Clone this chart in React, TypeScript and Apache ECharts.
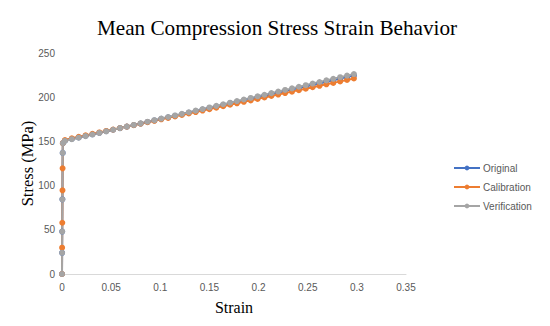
import React, { useEffect, useRef } from "react";
import * as echarts from "echarts";

const seriesNames = ["Original", "Calibration", "Verification"];
const colors = ["#4472C4", "#ED7D31", "#A5A5A5"];

// Elastic (near-zero strain) region
const elasticStrainOriginal = [0, 0.0001, 0.0002, 0.0004, 0.0007, 0.0009];
const elasticStressOriginal = [0, 24, 48, 84.5, 137, 148];
const elasticStrainCalibration = [0, 0.0001, 0.0003, 0.0005, 0.0006, 0.0008];
const elasticStressCalibration = [0, 29.8, 58, 94.7, 119.5, 148];
const elasticStrainVerification = [0, 0.0001, 0.0002, 0.0004, 0.0007, 0.0009];
const elasticStressVerification = [0, 24, 48, 84.5, 137, 148];

// Plastic region strains
const plasticStrain = [
  0.003, 0.01, 0.017, 0.024, 0.031, 0.038, 0.045, 0.052, 0.059, 0.066, 0.073,
  0.08, 0.087, 0.094, 0.101, 0.108, 0.115, 0.122, 0.129, 0.136, 0.143, 0.15,
  0.157, 0.164, 0.171, 0.178, 0.185, 0.192, 0.199, 0.206, 0.213, 0.22, 0.227,
  0.234, 0.241, 0.248, 0.255, 0.262, 0.269, 0.276, 0.283, 0.29, 0.297,
];
const plasticStressOriginal = [
  150.8, 152.8, 154.5, 156.2, 158.0, 159.7, 161.5, 163.2, 165.0, 166.7, 168.5,
  170.2, 172.0, 173.7, 175.5, 177.2, 179.0, 180.7, 182.5, 184.2, 186.0, 187.7,
  189.5, 191.2, 193.0, 194.7, 196.5, 198.2, 200.0, 201.7, 203.5, 205.2, 207.0,
  208.7, 210.5, 212.2, 214.0, 215.7, 217.5, 219.2, 221.0, 222.7, 224.5,
];
const plasticStressCalibration = [
  151.5, 153.5, 155.2, 156.8, 158.5, 160.1, 161.8, 163.4, 165.1, 166.7, 168.4,
  170.0, 171.7, 173.3, 175.0, 176.6, 178.3, 179.9, 181.6, 183.2, 184.9, 186.5,
  188.2, 189.8, 191.5, 193.1, 194.8, 196.4, 198.1, 199.7, 201.4, 203.0, 204.7,
  206.3, 208.0, 209.6, 211.3, 212.9, 214.6, 216.2, 217.9, 219.5, 221.2,
];
const plasticStressVerification = [
  150.5, 152.5, 154.2, 156.0, 157.8, 159.6, 161.4, 163.2, 165.0, 166.8, 168.6,
  170.4, 172.2, 174.0, 175.8, 177.6, 179.4, 181.2, 183.0, 184.8, 186.6, 188.4,
  190.2, 192.0, 193.8, 195.6, 197.4, 199.2, 201.0, 202.8, 204.6, 206.4, 208.2,
  210.0, 211.8, 213.6, 215.4, 217.2, 219.0, 220.8, 222.6, 224.4, 226.2,
];

const xTicks = [0, 0.05, 0.1, 0.15, 0.2, 0.25, 0.3, 0.35];
const yTicks = [0, 50, 100, 150, 200, 250];

function pairs(ex: number[], ey: number[], px: number[], py: number[]) {
  const out: number[][] = [];
  ex.forEach((x, i) => out.push([x, ey[i]]));
  px.forEach((x, i) => out.push([x, py[i]]));
  return out;
}

export default function App() {
  const ref = useRef<HTMLDivElement>(null);
  useEffect(() => {
    if (!ref.current) return;
    const chart = echarts.init(ref.current, undefined, { renderer: "svg" });
    const datasets = [
      pairs(elasticStrainOriginal, elasticStressOriginal, plasticStrain, plasticStressOriginal),
      pairs(elasticStrainCalibration, elasticStressCalibration, plasticStrain, plasticStressCalibration),
      pairs(elasticStrainVerification, elasticStressVerification, plasticStrain, plasticStressVerification),
    ];
    const labelFont = { color: "#595959", fontSize: 10, fontFamily: "Liberation Sans, Arial, sans-serif" };
    const serif = "Liberation Serif, Times New Roman, serif";
    chart.setOption({
      animation: false,
      backgroundColor: "#ffffff",
      title: {
        text: "Mean Compression Stress Strain Behavior",
        left: 272,
        top: 12,
        textAlign: "center",
        textStyle: { fontFamily: serif, fontSize: 21.2, fontWeight: "normal", color: "#000000" },
      },
      legend: {
        orient: "vertical",
        left: 448,
        top: 158,
        itemGap: 9,
        itemWidth: 26,
        itemHeight: 6,
        data: seriesNames,
        textStyle: { ...labelFont, fontSize: 10, padding: [0, 0, 0, -2] },
      },
      grid: { left: 62, right: 144, top: 53, bottom: 52 },
      xAxis: {
        type: "value",
        min: xTicks[0],
        max: xTicks[xTicks.length - 1],
        interval: 0.05,
        name: "Strain",
        nameLocation: "middle",
        nameGap: 25,
        nameMoveOverlap: false,
        nameTextStyle: { fontFamily: serif, fontSize: 16, color: "#000000" },
        axisLine: { show: true, lineStyle: { color: "#D9D9D9", width: 1 } },
        axisTick: { show: false },
        splitLine: { show: false },
        axisLabel: { ...labelFont, margin: 8 },
      },
      yAxis: {
        type: "value",
        min: yTicks[0],
        max: yTicks[yTicks.length - 1],
        interval: 50,
        name: "Stress (MPa)",
        nameLocation: "middle",
        nameGap: 26,
        nameMoveOverlap: false,
        nameTextStyle: { fontFamily: serif, fontSize: 16.5, color: "#000000" },
        axisLine: { show: false },
        axisTick: { show: false },
        splitLine: { show: false },
        axisLabel: { ...labelFont, margin: 7 },
      },
      series: datasets.map((d, i) => ({
        name: seriesNames[i],
        type: "line",
        data: d,
        symbol: "circle",
        symbolSize: 6,
        showSymbol: true,
        lineStyle: { color: colors[i], width: 2 },
        itemStyle: { color: colors[i] },
      })),
    });
    return () => chart.dispose();
  }, []);
  return <div ref={ref} style={{ width: 550, height: 326, position: "absolute", left: 0, top: 0 }} />;
}
